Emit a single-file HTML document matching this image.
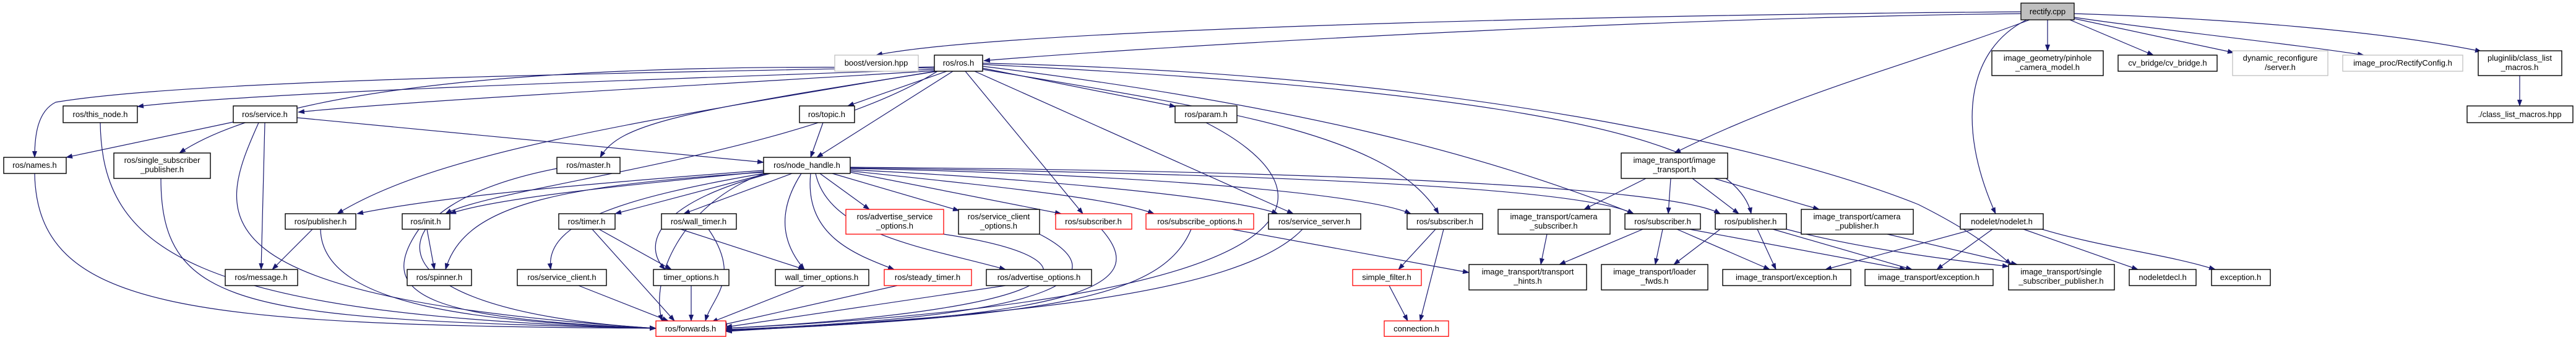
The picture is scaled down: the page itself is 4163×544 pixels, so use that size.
<!DOCTYPE html>
<html><head><meta charset="utf-8"><style>
html,body{margin:0;padding:0;background:#fff;}
svg{display:block}
text{font-family:"Liberation Sans",sans-serif;font-size:13px;fill:#000;text-anchor:middle}
.e{fill:none;stroke:#191970;stroke-width:1.2}
.b{fill:#fff;stroke:#000;stroke-width:1.4}
.r{fill:#fff;stroke:#ff0000;stroke-width:1.3}
.g{fill:#fff;stroke:#bfbfbf;stroke-width:1.3}
</style></head><body>
<svg width="4163" height="544" viewBox="0 0 4163 544" xmlns="http://www.w3.org/2000/svg">
<defs><marker id="a" markerWidth="11" markerHeight="8" refX="10" refY="4" orient="auto" markerUnits="userSpaceOnUse"><path d="M0,0 L11,4 L0,8 z" fill="#191970"/></marker></defs>
<g class="e" marker-end="url(#a)">
<path d="M3266 19 C2500 25 1600 50 1416 89"/>
<path d="M3266 22 C2600 30 1800 80 1590 98"/>
<path d="M3280 32 C3100 100 2900 150 2706 247"/>
<path d="M3309 32 L3309 82"/>
<path d="M3345 32 L3480 89"/>
<path d="M3352 30 L3610 85"/>
<path d="M3352 28 C3500 50 3700 70 3820 89"/>
<path d="M3352 22 C3600 30 3850 50 4010 83"/>
<path d="M3275 32 C3180 80 3160 200 3225 345"/>
<path d="M4072 122 L4072 171"/>
<path d="M1510 112 C1000 130 400 150 222 172"/>
<path d="M1512 114 C1100 140 700 160 482 181"/>
<path d="M1510 108 C900 120 300 130 90 165 C60 180 56 220 56 254"/>
<path d="M1510 110 C900 100 450 140 290 247"/>
<path d="M1530 115 L1370 171"/>
<path d="M1540 115 L1320 254"/>
<path d="M1515 115 C1100 180 1000 200 970 254"/>
<path d="M1512 115 C1000 200 700 250 545 345"/>
<path d="M1515 115 C1300 250 800 300 720 345"/>
<path d="M1560 115 L1750 345"/>
<path d="M1575 115 L2090 345"/>
<path d="M1588 110 L1900 172"/>
<path d="M1588 112 C2000 180 2250 220 2325 345"/>
<path d="M1588 107 C2100 170 2400 250 2640 345"/>
<path d="M1588 104 C2300 140 2800 200 2830 345"/>
<path d="M1588 102 C2400 120 2900 250 3100 330 C3180 370 3220 400 3250 427"/>
<path d="M377 197 L107 254"/>
<path d="M428 198 L422 435"/>
<path d="M418 198 C350 350 300 480 1060 530"/>
<path d="M480 190 L1234 262"/>
<path d="M162 198 C165 400 300 510 1060 530"/>
<path d="M56 280 C60 500 300 525 1060 530"/>
<path d="M260 288 C260 500 400 515 1060 530"/>
<path d="M900 272 C600 330 560 500 1060 530"/>
<path d="M1330 198 L1310 254"/>
<path d="M1949 198 C2150 300 2200 480 1173 530"/>
<path d="M505 370 L440 435"/>
<path d="M518 370 C520 500 800 520 1060 530"/>
<path d="M690 370 L702 435"/>
<path d="M677 370 C600 480 700 515 1060 530"/>
<path d="M968 370 L1085 435"/>
<path d="M957 370 L1090 518"/>
<path d="M935 461 L1080 518"/>
<path d="M1117 461 L1117 518"/>
<path d="M1100 370 L1300 435"/>
<path d="M1145 370 C1200 450 1150 480 1140 518"/>
<path d="M1300 461 L1150 520"/>
<path d="M1450 461 L1165 525"/>
<path d="M1625 461 L1173 528"/>
<path d="M1525 378 C1800 420 1750 500 1173 530"/>
<path d="M1680 378 C1800 440 1750 510 1173 532"/>
<path d="M1780 370 C1850 450 1800 510 1173 533"/>
<path d="M1925 370 C1880 480 1700 510 1173 534"/>
<path d="M1990 370 L2374 440"/>
<path d="M2105 370 C2000 480 1600 510 1173 535"/>
<path d="M1234 275 C900 300 700 320 577 345"/>
<path d="M1234 277 C1000 300 800 320 727 345"/>
<path d="M1234 278 C900 300 750 330 720 435"/>
<path d="M1240 280 L994 345"/>
<path d="M1280 280 L1105 345"/>
<path d="M1245 280 C1050 330 1040 400 1075 435"/>
<path d="M1295 280 C1250 350 1270 400 1300 435"/>
<path d="M1310 280 C1300 380 1380 410 1445 435"/>
<path d="M1318 280 C1340 380 1500 400 1625 435"/>
<path d="M1325 280 L1405 338"/>
<path d="M1345 280 L1550 340"/>
<path d="M1374 278 L1715 345"/>
<path d="M1374 276 C1600 300 1800 320 1865 345"/>
<path d="M1374 274 C1700 290 2000 320 2065 345"/>
<path d="M1374 272 C1800 280 2200 310 2280 345"/>
<path d="M1374 271 C2000 280 2550 300 2640 345"/>
<path d="M1374 270 C2100 275 2700 300 2780 345"/>
<path d="M1234 280 C1000 320 880 360 890 435"/>
<path d="M1234 280 C1100 330 1050 450 1070 518"/>
<path d="M2320 370 L2260 435"/>
<path d="M2333 370 L2295 518"/>
<path d="M2245 461 L2275 518"/>
<path d="M2660 288 L2560 338"/>
<path d="M2700 288 L2696 345"/>
<path d="M2735 288 L2810 345"/>
<path d="M2770 288 L2940 338"/>
<path d="M2500 378 L2490 427"/>
<path d="M2655 370 L2520 427"/>
<path d="M2687 370 L2675 427"/>
<path d="M2710 370 L2860 435"/>
<path d="M2730 370 L3080 435"/>
<path d="M2780 370 L2705 427"/>
<path d="M2840 370 L2870 435"/>
<path d="M2865 370 L3090 435"/>
<path d="M2887 370 C3000 400 3150 420 3246 430"/>
<path d="M3050 378 L3260 427"/>
<path d="M3190 370 L2950 435"/>
<path d="M3220 370 L3130 435"/>
<path d="M3270 370 L3455 435"/>
<path d="M3300 370 C3400 400 3500 410 3580 435"/>
</g>
<g>
<rect x="3266" y="5" width="86" height="27" fill="#bfbfbf" stroke="#000" stroke-width="1.3"/><text x="3309" y="23">rectify.cpp</text>
<rect class="g" x="1349" y="89" width="135" height="26"/><text x="1416" y="106">boost/version.hpp</text>
<rect class="b" x="1510" y="89" width="78" height="26"/><text x="1549" y="106">ros/ros.h</text>
<rect class="b" x="3219" y="82" width="180" height="40"/><text x="3309" y="98">image_geometry/pinhole</text><text x="3309" y="113">_camera_model.h</text>
<rect class="b" x="3423" y="89" width="160" height="26"/><text x="3503" y="106">cv_bridge/cv_bridge.h</text>
<rect class="g" x="3608" y="82" width="154" height="40"/><text x="3685" y="98">dynamic_reconfigure</text><text x="3685" y="113">/server.h</text>
<rect class="g" x="3786" y="89" width="194" height="26"/><text x="3883" y="106">image_proc/RectifyConfig.h</text>
<rect class="b" x="4005" y="82" width="135" height="40"/><text x="4072" y="98">pluginlib/class_list</text><text x="4072" y="113">_macros.h</text>
<rect class="b" x="3987" y="171" width="171" height="27"/><text x="4072" y="189">./class_list_macros.hpp</text>
<rect class="b" x="102" y="171" width="120" height="27"/><text x="162" y="189">ros/this_node.h</text>
<rect class="b" x="377" y="171" width="103" height="27"/><text x="428" y="189">ros/service.h</text>
<rect class="b" x="1292" y="171" width="89" height="27"/><text x="1336" y="189">ros/topic.h</text>
<rect class="b" x="1899" y="171" width="100" height="27"/><text x="1949" y="189">ros/param.h</text>
<rect class="b" x="6" y="254" width="101" height="26"/><text x="56" y="271">ros/names.h</text>
<rect class="b" x="184" y="247" width="156" height="41"/><text x="262" y="263">ros/single_subscriber</text><text x="262" y="278">_publisher.h</text>
<rect class="b" x="900" y="254" width="102" height="26"/><text x="951" y="271">ros/master.h</text>
<rect class="b" x="1234" y="254" width="140" height="26"/><text x="1304" y="271">ros/node_handle.h</text>
<rect class="b" x="2620" y="247" width="172" height="41"/><text x="2706" y="263">image_transport/image</text><text x="2706" y="278">_transport.h</text>
<rect class="b" x="461" y="345" width="114" height="25"/><text x="518" y="362">ros/publisher.h</text>
<rect class="b" x="650" y="345" width="77" height="25"/><text x="688" y="362">ros/init.h</text>
<rect class="b" x="903" y="345" width="91" height="25"/><text x="948" y="362">ros/timer.h</text>
<rect class="b" x="1069" y="345" width="121" height="25"/><text x="1129" y="362">ros/wall_timer.h</text>
<rect class="r" x="1367" y="338" width="158" height="40"/><text x="1446" y="354">ros/advertise_service</text><text x="1446" y="369">_options.h</text>
<rect class="b" x="1549" y="338" width="131" height="40"/><text x="1614" y="354">ros/service_client</text><text x="1614" y="369">_options.h</text>
<rect class="r" x="1706" y="345" width="123" height="25"/><text x="1767" y="362">ros/subscriber.h</text>
<rect class="r" x="1852" y="345" width="174" height="25"/><text x="1939" y="362">ros/subscribe_options.h</text>
<rect class="b" x="2050" y="345" width="149" height="25"/><text x="2124" y="362">ros/service_server.h</text>
<rect class="b" x="2274" y="345" width="122" height="25"/><text x="2335" y="362">ros/subscriber.h</text>
<rect class="b" x="2421" y="338" width="181" height="40"/><text x="2511" y="354">image_transport/camera</text><text x="2511" y="369">_subscriber.h</text>
<rect class="b" x="2626" y="345" width="122" height="25"/><text x="2687" y="362">ros/subscriber.h</text>
<rect class="b" x="2772" y="345" width="115" height="25"/><text x="2829" y="362">ros/publisher.h</text>
<rect class="b" x="2911" y="338" width="181" height="40"/><text x="3001" y="354">image_transport/camera</text><text x="3001" y="369">_publisher.h</text>
<rect class="b" x="3168" y="345" width="134" height="25"/><text x="3235" y="362">nodelet/nodelet.h</text>
<rect class="b" x="364" y="435" width="117" height="26"/><text x="422" y="452">ros/message.h</text>
<rect class="b" x="658" y="435" width="104" height="26"/><text x="710" y="452">ros/spinner.h</text>
<rect class="b" x="836" y="435" width="144" height="26"/><text x="908" y="452">ros/service_client.h</text>
<rect class="b" x="1056" y="435" width="122" height="26"/><text x="1117" y="452">timer_options.h</text>
<rect class="b" x="1253" y="435" width="151" height="26"/><text x="1328" y="452">wall_timer_options.h</text>
<rect class="r" x="1429" y="435" width="141" height="26"/><text x="1499" y="452">ros/steady_timer.h</text>
<rect class="b" x="1594" y="435" width="170" height="26"/><text x="1679" y="452">ros/advertise_options.h</text>
<rect class="r" x="2186" y="435" width="111" height="26"/><text x="2241" y="452">simple_filter.h</text>
<rect class="b" x="2374" y="427" width="190" height="41"/><text x="2469" y="443">image_transport/transport</text><text x="2469" y="458">_hints.h</text>
<rect class="b" x="2588" y="427" width="172" height="41"/><text x="2674" y="443">image_transport/loader</text><text x="2674" y="458">_fwds.h</text>
<rect class="b" x="2784" y="435" width="207" height="26"/><text x="2887" y="452">image_transport/exception.h</text>
<rect class="b" x="3014" y="435" width="207" height="26"/><text x="3117" y="452">image_transport/exception.h</text>
<rect class="b" x="3246" y="427" width="171" height="41"/><text x="3331" y="443">image_transport/single</text><text x="3331" y="458">_subscriber_publisher.h</text>
<rect class="b" x="3441" y="435" width="108" height="26"/><text x="3495" y="452">nodeletdecl.h</text>
<rect class="b" x="3574" y="435" width="95" height="26"/><text x="3621" y="452">exception.h</text>
<rect class="r" x="1060" y="518" width="113" height="25"/><text x="1116" y="535">ros/forwards.h</text>
<rect class="r" x="2237" y="518" width="104" height="25"/><text x="2289" y="535">connection.h</text>
</g>
</svg>
</body></html>
